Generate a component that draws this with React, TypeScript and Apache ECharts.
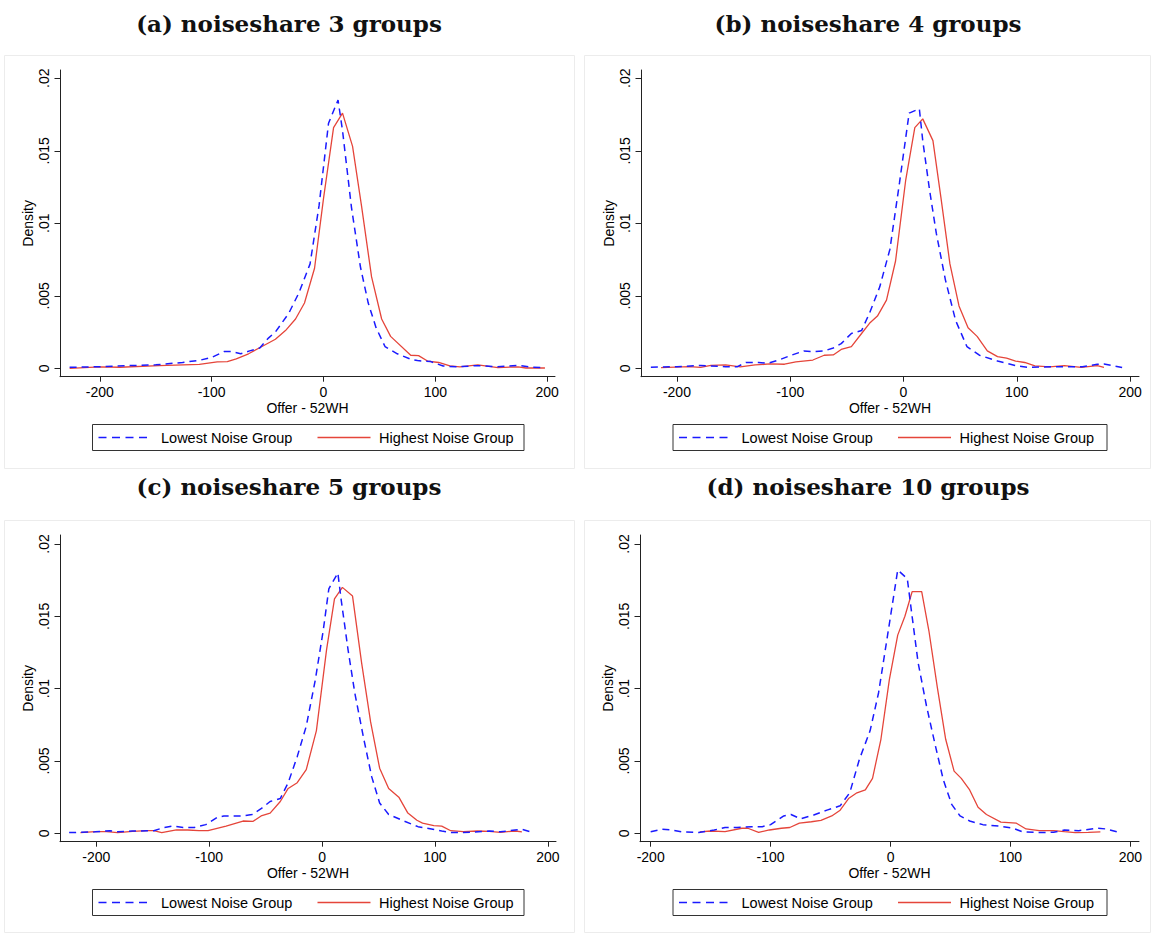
import React, { useEffect, useRef } from "react";
import * as echarts from "echarts";

// ---------- labels ----------
const panelTitles = [
  "(a) noiseshare 3 groups",
  "(b) noiseshare 4 groups",
  "(c) noiseshare 5 groups",
  "(d) noiseshare 10 groups",
];
const legendNames = ["Lowest Noise Group", "Highest Noise Group"];
const xAxisName = "Offer - 52WH";
const yAxisName = "Density";
const xTicks = [-200, -100, 0, 100, 200];
const yTicks = [0, 0.005, 0.01, 0.015, 0.02];
const yTickLabels = ["0", ".005", ".01", ".015", ".02"];

// ---------- (a) noiseshare 3 groups ----------
const lowAx = [-227, -200, -175, -150, -126, -111, -100, -89, -82, -74, -66, -57, -49, -43, -31, -22, -12, -4, 4.5, 13, 17, 25, 33, 40, 47, 55, 66, 79, 84, 96, 107, 119, 137, 155, 174, 187, 198];
const lowAy = [0.00007, 0.00011, 0.00018, 0.00024, 0.0004, 0.00055, 0.00075, 0.00115, 0.00115, 0.001, 0.0012, 0.0014, 0.0021, 0.0025, 0.0038, 0.0052, 0.0072, 0.0112, 0.0169, 0.0185, 0.0164, 0.0111, 0.007, 0.0045, 0.0028, 0.0015, 0.001, 0.0006, 0.00053, 0.00046, 0.00016, 0.0001, 0.00018, 0.00011, 0.0002, 0.00007, 0.00005];
const highAx = [-227, -200, -182, -147, -111, -95, -86, -78, -67, -55, -43, -34, -25, -17, -8, 0, 9, 17, 26, 34, 43, 52, 60, 78, 85, 93, 103, 113, 122, 138, 156, 174, 181, 198];
const highAy = [0, 0.0001, 0.00007, 0.00018, 0.00027, 0.00044, 0.00046, 0.00065, 0.001, 0.0015, 0.002, 0.0026, 0.0034, 0.0045, 0.0069, 0.0117, 0.0166, 0.0176, 0.0153, 0.0112, 0.0063, 0.0034, 0.0022, 0.0009, 0.00087, 0.0005, 0.0004, 0.00016, 0.0001, 0.00023, 0.00005, 0.0001, 0.00002, 0.00002];

// ---------- (b) noiseshare 4 groups ----------
const lowBx = [-223, -200, -179, -157, -147, -139, -128, -120, -109, -99, -88, -80, -70, -62, -55, -46, -37, -30, -21, -12, -3.5, 5, 14, 17, 23, 29, 37, 46, 56, 67, 83, 100, 110, 132, 158, 171, 177, 193];
const lowBy = [0.00007, 0.00011, 0.0002, 0.00011, 0.0001, 0.0004, 0.0004, 0.00034, 0.0006, 0.0009, 0.0012, 0.00115, 0.0012, 0.0014, 0.0017, 0.0024, 0.0026, 0.0038, 0.0056, 0.0082, 0.0128, 0.0176, 0.0179, 0.0157, 0.0123, 0.0093, 0.0061, 0.0033, 0.0015, 0.0009, 0.0005, 0.00016, 0.00007, 0.0001, 0.0001, 0.00028, 0.0003, 0.00005];
const highBx = [-214, -189, -179, -170, -157, -144, -131, -118, -105, -95, -80, -70, -62, -55, -46, -37, -30, -23, -15, -7, 2, 10, 17, 26, 33, 41, 49, 57, 65, 74, 83, 91, 99, 107, 116, 129, 142, 157, 171, 177];
const highBy = [0.00005, 0.00011, 0.00007, 0.0002, 0.00023, 0.0001, 0.00023, 0.0003, 0.00028, 0.00044, 0.00057, 0.0009, 0.00092, 0.0013, 0.0015, 0.0024, 0.0031, 0.0036, 0.0047, 0.0074, 0.013, 0.0166, 0.0172, 0.0157, 0.0118, 0.0072, 0.0043, 0.0028, 0.0022, 0.0012, 0.0008, 0.0007, 0.0005, 0.0004, 0.00016, 0.0001, 0.00018, 0.00007, 0.00018, 0.00007];

// ---------- (c) noiseshare 5 groups ----------
const lowCx = [-224, -201, -188, -181, -168, -149, -140, -132, -123, -113, -103, -93, -87, -71, -62, -54, -46, -37, -30, -22, -14, -6, 1, 6, 14, 17, 23, 29, 37, 44, 51, 59, 71, 85, 93, 106, 115, 132, 148, 158, 171, 177, 187];
const lowCy = [0.00005, 0.0001, 0.00018, 0.0001, 0.00016, 0.00018, 0.0004, 0.0005, 0.0004, 0.0004, 0.0006, 0.0011, 0.0012, 0.0012, 0.0013, 0.0017, 0.0022, 0.0024, 0.0035, 0.0053, 0.0074, 0.0106, 0.014, 0.0169, 0.018, 0.0161, 0.0127, 0.0097, 0.0065, 0.0039, 0.0021, 0.0013, 0.0009, 0.00046, 0.00035, 0.00016, 0.00005, 0.00007, 0.00016, 0.0001, 0.00023, 0.00028, 0.00005];
const highCx = [-214, -201, -191, -181, -168, -155, -149, -142, -129, -119, -109, -101, -85, -70, -61, -54, -46, -37, -30, -22, -14, -5, 4, 11, 18, 27, 35, 43, 51, 59, 68, 76, 84, 89, 99, 106, 114, 125, 138, 148, 158, 171, 177];
const highCy = [0.00005, 0.00011, 0.00011, 0.00005, 0.00014, 0.00018, 0.00018, 0.00005, 0.00023, 0.00023, 0.00018, 0.00018, 0.0005, 0.00085, 0.00083, 0.0012, 0.0014, 0.0022, 0.0031, 0.0035, 0.0044, 0.0071, 0.0127, 0.0162, 0.017, 0.0164, 0.0118, 0.0077, 0.0045, 0.0031, 0.0025, 0.0014, 0.0009, 0.0007, 0.00053, 0.0005, 0.00018, 0.00011, 0.00016, 0.00014, 0.00007, 0.00016, 0.0001];

// ---------- (d) noiseshare 10 groups ----------
const lowDx = [-200, -191, -183, -174, -160, -147, -138, -128, -116, -107, -100, -89, -83, -75, -64, -53, -42, -34, -26, -17, -10, -3, 6, 14, 18, 23, 30, 37, 44, 51, 58, 66, 77, 90, 102, 110, 124, 136, 145, 157, 172, 180, 190];
const lowDy = [0.00011, 0.00028, 0.00023, 0.0001, 0.00005, 0.00023, 0.0004, 0.0004, 0.00046, 0.00046, 0.0006, 0.0012, 0.0013, 0.001, 0.00127, 0.0016, 0.0019, 0.0028, 0.0051, 0.0071, 0.0097, 0.0134, 0.0182, 0.0176, 0.015, 0.0118, 0.0088, 0.0062, 0.0037, 0.002, 0.0012, 0.00085, 0.0006, 0.0005, 0.00035, 0.00011, 0.00005, 0.00007, 0.00023, 0.00018, 0.00035, 0.0003, 0.00007];
const highDx = [-159, -150, -138, -124, -119, -110, -101, -91, -84, -76, -66, -58, -49, -42, -35, -28, -21, -15, -8, -1, 6, 12, 18, 26, 32, 39, 46, 53, 59, 66, 73, 80, 92, 105, 113, 124, 136, 145, 154, 165, 175];
const highDy = [0.0001, 0.00016, 0.00011, 0.00035, 0.00035, 0.00007, 0.00023, 0.00035, 0.0004, 0.0007, 0.0008, 0.0009, 0.0012, 0.0016, 0.0024, 0.0028, 0.003, 0.0038, 0.0065, 0.0106, 0.0137, 0.015, 0.0167, 0.0167, 0.014, 0.0101, 0.0065, 0.0043, 0.0038, 0.003, 0.0018, 0.0013, 0.00077, 0.0007, 0.0003, 0.00018, 0.00018, 0.00011, 0.00005, 0.00007, 0.0001];

// ---------- layout (pixels / axis extents) ----------
const panels = [
  { low: [lowAx, lowAy], high: [highAx, highAy], grid: { left: 60, top: 70, width: 495, height: 306.7 }, xMin: -235.6, xMax: 207, yMin: -0.00058, yMax: 0.02057, box: [4.5, 55.5, 570, 413], legend: [92.5, 424.5, 431.5, 26], title: [289, 23] },
  { low: [lowBx, lowBy], high: [highBx, highBy], grid: { left: 641, top: 70, width: 498, height: 306.7 }, xMin: -231.7, xMax: 207.9, yMin: -0.00058, yMax: 0.02057, box: [584.5, 55.5, 566, 413], legend: [673, 424.5, 434, 26], title: [868, 23] },
  { low: [lowCx, lowCy], high: [highCx, highCy], grid: { left: 60, top: 535, width: 496, height: 306.7 }, xMin: -232.1, xMax: 207.2, yMin: -0.00058, yMax: 0.02062, box: [4.5, 520.5, 570, 412], legend: [92.5, 889.5, 431.5, 26], title: [289, 486] },
  { low: [lowDx, lowDy], high: [highDx, highDy], grid: { left: 640, top: 535, width: 499, height: 306.7 }, xMin: -208.9, xMax: 207.2, yMin: -0.00058, yMax: 0.02062, box: [584.5, 520.5, 566, 412], legend: [673, 889.5, 434, 26], title: [868, 486] },
];

const BLUE = "#1a1aff";
const RED = "#e5453a";
const AXIS = "#222";
const SANS = '"Liberation Sans", Arial, Helvetica, sans-serif';
const SERIF = '"DejaVu Serif", serif';

function zip(xs: number[], ys: number[]) {
  return xs.map((x, i) => [x, ys[i]]);
}

function buildOption() {
  const grid: any[] = [];
  const xAxis: any[] = [];
  const yAxis: any[] = [];
  const series: any[] = [];
  const graphic: any[] = [];

  panels.forEach((p, i) => {
    grid.push({ ...p.grid, outerBoundsMode: "none", containLabel: false });
    xAxis.push({
      type: "value",
      gridIndex: i,
      min: p.xMin,
      max: p.xMax,
      name: xAxisName,
      nameLocation: "middle",
      nameGap: 24,
      nameMoveOverlap: false,
      nameTextStyle: { fontFamily: SANS, fontSize: 14, color: "#000" },
      axisLine: { show: true, onZero: false, lineStyle: { color: AXIS, width: 1 } },
      axisTick: { show: true, length: 5, customValues: xTicks, lineStyle: { color: AXIS, width: 1 } },
      axisLabel: { customValues: xTicks, margin: 8.5, fontFamily: SANS, fontSize: 14, color: "#000" },
      splitLine: { show: false },
    });
    yAxis.push({
      type: "value",
      gridIndex: i,
      min: p.yMin,
      max: p.yMax,
      name: yAxisName,
      nameLocation: "middle",
      nameGap: 25,
      nameMoveOverlap: false,
      nameTextStyle: { fontFamily: SANS, fontSize: 14, color: "#000" },
      axisLine: { show: true, onZero: false, lineStyle: { color: AXIS, width: 1 } },
      axisTick: { show: true, length: 5.5, customValues: yTicks, lineStyle: { color: AXIS, width: 1 } },
      axisLabel: {
        customValues: yTicks,
        rotate: 90,
        margin: 9.5,
        fontFamily: SANS,
        fontSize: 14,
        color: "#000",
        formatter: (v: number) => {
          const k = yTicks.findIndex((t) => Math.abs(t - v) < 1e-9);
          return k >= 0 ? yTickLabels[k] : "";
        },
      },
      splitLine: { show: false },
    });
    series.push({
      type: "line",
      name: legendNames[0],
      xAxisIndex: i,
      yAxisIndex: i,
      data: zip(p.low[0], p.low[1]),
      showSymbol: false,
      symbol: "none",
      silent: true,
      lineStyle: { color: BLUE, width: 1.5, type: [7, 5] },
      z: 3,
    });
    series.push({
      type: "line",
      name: legendNames[1],
      xAxisIndex: i,
      yAxisIndex: i,
      data: zip(p.high[0], p.high[1]),
      showSymbol: false,
      symbol: "none",
      silent: true,
      lineStyle: { color: RED, width: 1.3, type: "solid" },
      z: 2,
    });

    const [bx, by, bw, bh] = p.box;
    graphic.push({ type: "rect", silent: true, z: -10, shape: { x: bx, y: by, width: bw, height: bh }, style: { fill: "#fff", stroke: "#ececec", lineWidth: 1 } });
    graphic.push({
      type: "text",
      silent: true,
      x: p.title[0],
      y: p.title[1],
      style: { text: panelTitles[i], font: `bold 23px ${SERIF}`, fill: "#111", align: "center", verticalAlign: "middle" },
    });
    const [lx, ly, lw, lh] = p.legend;
    const cy = ly + lh / 2;
    graphic.push({ type: "rect", silent: true, shape: { x: lx, y: ly, width: lw, height: lh }, style: { fill: "#fff", stroke: "#333", lineWidth: 1 } });
    graphic.push({ type: "line", silent: true, shape: { x1: lx + 6, y1: cy, x2: lx + 60, y2: cy }, style: { stroke: BLUE, lineWidth: 1.5, lineDash: [8, 5.5] } });
    graphic.push({ type: "text", silent: true, x: lx + 68.5, y: cy, style: { text: legendNames[0], font: `14.5px ${SANS}`, fill: "#000", align: "left", verticalAlign: "middle" } });
    graphic.push({ type: "line", silent: true, shape: { x1: lx + 225, y1: cy, x2: lx + 278, y2: cy }, style: { stroke: RED, lineWidth: 1.3 } });
    graphic.push({ type: "text", silent: true, x: lx + 286.5, y: cy, style: { text: legendNames[1], font: `14.5px ${SANS}`, fill: "#000", align: "left", verticalAlign: "middle" } });
  });

  return {
    animation: false,
    backgroundColor: "#fff",
    grid,
    xAxis,
    yAxis,
    series,
    graphic,
  };
}

export default function App() {
  const ref = useRef<HTMLDivElement>(null);
  useEffect(() => {
    if (!ref.current) return;
    const chart = echarts.init(ref.current, undefined, { renderer: "svg" });
    chart.setOption(buildOption() as any);
    return () => chart.dispose();
  }, []);
  return (
    <div
      ref={ref}
      style={{ position: "absolute", left: 0, top: 0, width: 1151, height: 933, background: "#fff" }}
    />
  );
}
